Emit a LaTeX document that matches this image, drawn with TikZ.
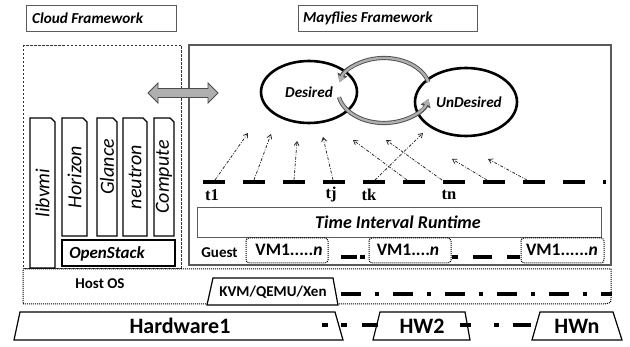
\documentclass[tikz,border=0pt]{standalone}
\usepackage{fontspec}
\setmainfont{Carlito}
\newfontfamily\serifb{Liberation Serif}
\usetikzlibrary{arrows.meta}
\definecolor{boxgray}{RGB}{90,90,90}
\definecolor{lightgr}{RGB}{175,175,175}
\tikzset{
  lbl/.style={font=\fontsize{15.2}{17}\selectfont\bfseries\itshape, inner sep=0pt},
  comp/.style={draw=black, line width=1.3pt, fill=white},
  comptext/.style={font=\fontsize{20}{22}\selectfont\itshape, rotate=90, inner sep=0pt},
  tlab/.style={font=\fontsize{16.5}{18}\selectfont\serifb\bfseries, inner sep=0pt},
  darr/.style={draw=black!85, line width=0.75pt, dash pattern=on 3pt off 1.5pt on 0.8pt off 1.5pt, -{Straight Barb[length=4pt,width=5pt]}},
  thickdash/.style={line width=4pt, black},
  vmbox/.style={draw=black, densely dotted, line width=1pt, rounded corners=3pt},
  vmtext/.style={font=\fontsize{17.5}{19}\selectfont\bfseries, inner sep=0pt},
  hw/.style={draw=black, line width=1.2pt, fill=white},
  hwtext/.style={font=\fontsize{22}{24}\selectfont\bfseries, inner sep=0pt},
  ell/.style={draw=black, line width=2.6pt},
  cyc/.style={line width=4.2pt, draw=black!70, -{Triangle[length=8pt,width=10pt]}},
  cycin/.style={line width=2.4pt, draw=lightgr, -{Triangle[length=6pt,width=7pt]}},
}
\begin{document}
\begin{tikzpicture}[x=1pt,y=-1pt]
\useasboundingbox (0,0) rectangle (630,347);
\fill[white] (0,0) rectangle (630,347);

% title boxes
\draw[boxgray, line width=0.6pt] (26,5) rectangle (176,31);
\node[lbl, anchor=west] (cloudt) at (32,18) {Cloud Framework};
\draw[boxgray, line width=0.6pt] (298,5) rectangle (477,31);
\node[lbl, anchor=west] (mayt) at (303,18) {Mayflies Framework};

% frameworks
\draw[black!80, line width=0.9pt, dash pattern=on 2.5pt off 1.5pt] (23,45) rectangle (181,268);
\draw[boxgray, line width=1.5pt] (189,45) rectangle (611,265);

% Host OS
\draw[black, line width=1pt, densely dotted] (23,269) -- (611,269) -- (611,298) .. controls (611,303) .. (604,304) -- (23,304) -- cycle;
\node[font=\fontsize{15}{17}\selectfont\bfseries, inner sep=0pt] (hostos) at (100,284) {Host OS};

% KVM
\draw[hw] (213,278) -- (333,278) -- (338,305) -- (207,305) -- cycle;
\node[font=\fontsize{15}{17}\selectfont\bfseries, inner sep=0pt] (kvm) at (273,292.5) {KVM/QEMU/Xen};
\draw[line width=4.5pt, dash pattern=on 20pt off 14pt on 4pt off 14pt] (341,294) -- (612,294);

% Hardware
\draw[hw] (20,312) -- (335,312) -- (343,340) -- (14,340) -- cycle;
\node[hwtext] (hw1) at (180,326) {Hardware1};
\draw[hw] (380,312) -- (465,312) -- (470,340) -- (373,340) -- cycle;
\node[hwtext] (hw2) at (422,326) {HW2};
\draw[hw] (540,312) -- (613,312) -- (622,340) -- (532,340) -- cycle;
\node[hwtext] (hwn) at (577,326) {HWn};
\draw[thickdash] (322,325) -- (328,325);
\draw[thickdash] (341,325) -- (347,325);
\draw[thickdash] (362,325) -- (378,325);
\draw[thickdash] (460,325) -- (471,325);
\draw[thickdash] (494,325) -- (499,325);
\draw[thickdash] (513,325) -- (531,325);

% Cloud components
\draw[comp] (30,268) -- (30,118) -- (51,118) -- (55,122) -- (55,268) -- cycle;
\node[comptext] (libvmi) at (42.5,193) {libvmi};
\draw[comp] (62,236) -- (62,118) -- (83,118) -- (87,122) -- (87,236) -- cycle;
\node[comptext] (horizon) at (74.5,177) {Horizon};
\draw[comp] (97,236) -- (97,118) -- (113,118) -- (117,122) -- (117,236) -- cycle;
\node[comptext] (glance) at (107,167) {Glance};
\draw[comp] (123,236) -- (123,118) -- (143,118) -- (147,122) -- (147,236) -- cycle;
\node[comptext] (neutron) at (135,177) {neutron};
\draw[comp] (154,236) -- (154,118) -- (170,118) -- (174,122) -- (174,236) -- cycle;
\node[comptext] (compute) at (164,177) {Compute};
\draw[comp] (62,240) rectangle (175,266);
\node[font=\fontsize{17}{19}\selectfont\bfseries\itshape, inner sep=0pt] (openstack) at (107,254) {OpenStack};

% double arrow
\draw[draw=black!70, fill=lightgr, line width=0.8pt] (148,93) -- (158,83) -- (158,88.5) -- (208,88.5) -- (208,83) -- (218,93) -- (208,103) -- (208,97.5) -- (158,97.5) -- (158,103) -- cycle;

% states
\draw[ell] (309,92) ellipse[x radius=48, y radius=31];
\draw[ell] (466,102) ellipse[x radius=51, y radius=34];
\node[lbl] (desired) at (309,92) {Desired};
\node[lbl] (undesired) at (469,102) {UnDesired};
\draw[cyc] (384,90.5) ++(-15:46 and 32.5) arc[start angle=-15, end angle=-165, x radius=46, y radius=32.5];
\draw[cycin] (384,90.5) ++(-15:46 and 32.5) arc[start angle=-15, end angle=-165, x radius=46, y radius=32.5];
\draw[cyc] (384,90.5) ++(168:46 and 32.5) arc[start angle=168, end angle=15, x radius=46, y radius=32.5];
\draw[cycin] (384,90.5) ++(168:46 and 32.5) arc[start angle=168, end angle=15, x radius=46, y radius=32.5];

% timeline
\draw[line width=4.5pt, dash pattern=on 22pt off 18pt] (203,182) -- (606,182);
\node[tlab] (t1) at (212,195) {t1};
\node[tlab] (tj) at (331,195) {tj};
\node[tlab] (tk) at (369,195) {tk};
\node[tlab] (tn) at (449,195) {tn};
\coordinate (s1) at (215,180); \coordinate (e1) at (248,133);
\coordinate (s2) at (254,180); \coordinate (e2) at (271,134);
\coordinate (s3) at (294,180); \coordinate (e3) at (297,141);
\coordinate (s4) at (333,180); \coordinate (e4) at (323,137);
\coordinate (s5) at (375,180); \coordinate (e5) at (423,133);
\coordinate (s6) at (407,180); \coordinate (e6) at (353,140);
\coordinate (s7) at (442,180); \coordinate (e7) at (386,140);
\coordinate (s8) at (487,180); \coordinate (e8) at (452,159);
\coordinate (s9) at (527,180); \coordinate (e9) at (488,159);
\foreach \i in {1,...,9} { \draw[darr] (s\i) -- (e\i); }

% time interval runtime
\draw[boxgray, line width=0.6pt] (197,207) rectangle (601,237);
\node[font=\fontsize{18}{20}\selectfont\bfseries\itshape, inner sep=0pt] (tir) at (398,222) {Time Interval Runtime};

% guests
\node[font=\fontsize{15}{17}\selectfont\bfseries, inner sep=0pt] (guest) at (219.5,253) {Guest};
\draw[vmbox] (246,238) rectangle (328,263);
\node[vmtext] (vm1) at (289,250) {VM1.....{\itshape n}};
\draw[vmbox] (369,238) rectangle (451,263);
\node[vmtext] (vm2) at (408,250) {VM1....{\itshape n}};
\draw[vmbox] (521,238) rectangle (604,263);
\node[vmtext] (vm3) at (562,250) {VM1......{\itshape n}};
\draw[thickdash] (341,257) -- (357,257);
\draw[thickdash] (360,257) -- (365,257);
\draw[thickdash] (452,257) -- (458,257);
\draw[thickdash] (473,257) -- (492,257);
\draw[thickdash] (507,257) -- (520,257);
\end{tikzpicture}
\end{document}
